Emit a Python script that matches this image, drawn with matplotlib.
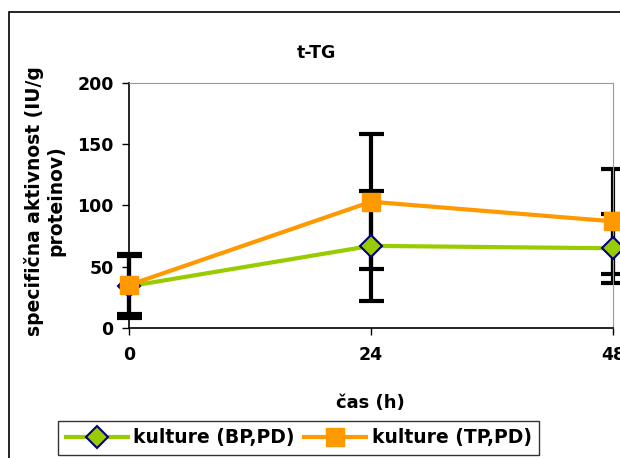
import matplotlib.pyplot as plt
from matplotlib.patches import Rectangle

plt.rcParams['font.family'] = ['DejaVu Sans']
plt.rcParams['font.weight'] = 'bold'

# podatki
cas = [0, 24, 48]
bp_vrednosti = [34, 67, 65]
bp_napake = [26, 45, 28]
tp_vrednosti = [35, 103, 87]
tp_napake = [24, 55, 43]

fig = plt.figure(figsize=(6.2, 4.58), dpi=100)
ax = fig.add_axes([0.208, 0.284, 0.781, 0.535])

# zunanji okvir
fig.patches.append(Rectangle((9 / 620, -0.1), 1.2, 1 - 12 / 458 + 0.1,
                             transform=fig.transFigure, fill=False,
                             edgecolor='black', linewidth=1.2))

for vr, nap in [(bp_vrednosti, bp_napake), (tp_vrednosti, tp_napake)]:
    eb = ax.errorbar(cas, vr, yerr=nap, fmt='none', ecolor='black',
                     elinewidth=3, capsize=9, capthick=3, zorder=2)
    for art in eb.lines[1] + eb.lines[2]:
        art.set_clip_on(False)

ax.plot(cas, bp_vrednosti, color='#99CC00', linewidth=3, marker='D',
        markersize=11, markerfacecolor='#99CC00', markeredgecolor='#000080',
        markeredgewidth=1.5, label='kulture (BP,PD)', zorder=3, clip_on=False)
ax.plot(cas, tp_vrednosti, color='#FF9900', linewidth=3, marker='s',
        markersize=13, markerfacecolor='#FF9900', markeredgecolor='#FF9900',
        label='kulture (TP,PD)', zorder=4, clip_on=False)

ax.set_xlim(0, 48)
ax.set_ylim(0, 200)
ax.set_xticks(cas)
ax.set_yticks([0, 50, 100, 150, 200])
ax.tick_params(labelsize=12.5, width=1, length=5, pad=6)
for lbl in ax.get_xticklabels() + ax.get_yticklabels():
    lbl.set_fontweight('bold')
ax.tick_params(axis='x', pad=8)

ax.spines['top'].set_color('#999999')
ax.spines['right'].set_color('#999999')
ax.spines['left'].set_linewidth(1.2)
ax.spines['bottom'].set_linewidth(1.2)

fig.text(0.51, 0.885, 't-TG', ha='center', va='center', fontsize=12.5, fontweight='bold')
fig.text(0.597, 0.12, 'čas (h)', ha='center', va='center', fontsize=13, fontweight='bold')
fig.text(0.072, 0.562, 'specifična aktivnost (IU/g\nproteinov)', ha='center', va='center',
         rotation=90, fontsize=13.5, fontweight='bold', linespacing=1.2)

leg = fig.legend(loc='center', bbox_to_anchor=(0.482, 0.044), ncol=2, frameon=True,
                 fancybox=False, edgecolor='black', fontsize=13.5, handlelength=3.3,
                 columnspacing=0.5, handletextpad=0.3, borderpad=0.4)
leg.get_frame().set_linewidth(1.0)
for t in leg.get_texts():
    t.set_fontweight('bold')

fig.savefig('out.png', dpi=100)
